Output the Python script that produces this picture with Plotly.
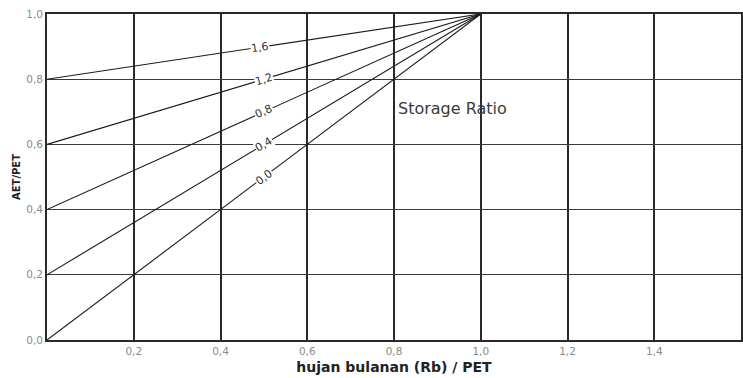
import math
import plotly.graph_objects as go

# Storage ratio curves: AET/PET intercept at Rb/PET = 0, all meet at (1, 1)
ratio_labels = ["1,6", "1,2", "0,8", "0,4", "0,0"]
intercepts = [0.8, 0.6, 0.4, 0.2, 0.0]
x_start = [0.0, 0.0, 0.0, 0.0, 0.0]
x_end = [1.0, 1.0, 1.0, 1.0, 1.0]
label_x = [0.49, 0.5, 0.5, 0.5, 0.5]

x_ticks = [0.2, 0.4, 0.6, 0.8, 1.0, 1.2, 1.4, 1.6]
y_ticks = [0.0, 0.2, 0.4, 0.6, 0.8, 1.0]

W, H = 743, 378
ML, MR, MT, MB = 47, 2, 14, 38
XR = [0, 1.6]
YR = [0, 1.0]
pw = W - ML - MR
ph = H - MT - MB

FONT = "DejaVu Sans"

fig = go.Figure()
for b, x0, x1 in zip(intercepts, x_start, x_end):
    fig.add_trace(go.Scatter(
        x=[x0, x1], y=[b + (1 - b) * x0, b + (1 - b) * x1],
        mode="lines", line=dict(color="#1a1a1a", width=1.1),
        showlegend=False, hoverinfo="skip"))

for lab, b, lx in zip(ratio_labels, intercepts, label_x):
    slope = 1 - b
    ang = math.degrees(math.atan(slope * (ph / (YR[1] - YR[0])) / (pw / (XR[1] - XR[0]))))
    fig.add_annotation(x=lx, y=b + slope * lx, text=lab, showarrow=False,
                       textangle=-ang, bgcolor="#ffffff", borderpad=0,
                       font=dict(family=FONT, size=11, color="#333333"))

fig.add_annotation(x=0.805, y=0.71, text="Storage Ratio", showarrow=False,
                   xanchor="left", yanchor="middle",
                   font=dict(family=FONT, size=16, color="#3a3a3a"))

fig.update_layout(
    width=W, height=H,
    margin=dict(l=ML, r=MR, t=MT, b=MB),
    paper_bgcolor="#ffffff", plot_bgcolor="#ffffff",
    separators=",.",
    xaxis=dict(range=XR, tickvals=x_ticks, tickformat=".1f", automargin=False,
               showgrid=True, gridcolor="#2a2a2a", gridwidth=1.8,
               zeroline=False, showline=True, linecolor="#2a2a2a", linewidth=1.8,
               mirror=True, ticks="",
               tickfont=dict(family=FONT, size=10.5, color="#8a8a8a"),
               title=dict(text="<b>hujan bulanan (Rb) / PET</b>", standoff=7,
                          font=dict(family=FONT, size=14, color="#222222"))),
    yaxis=dict(range=YR, tickvals=y_ticks, tickformat=".1f", automargin=False,
               showgrid=True, gridcolor="#3a3a3a", gridwidth=1.4,
               zeroline=False, showline=True, linecolor="#2a2a2a", linewidth=1.8,
               mirror=True, ticks="",
               tickfont=dict(family=FONT, size=10.5, color="#8a8a8a"),
               title=dict(text="<b>AET/PET</b>", standoff=4,
                          font=dict(family=FONT, size=10, color="#222222"))),
)

fig.write_html("out.html", config={"displayModeBar": False},
               post_script="document.body.style.margin='0';document.body.style.overflow='hidden';")
